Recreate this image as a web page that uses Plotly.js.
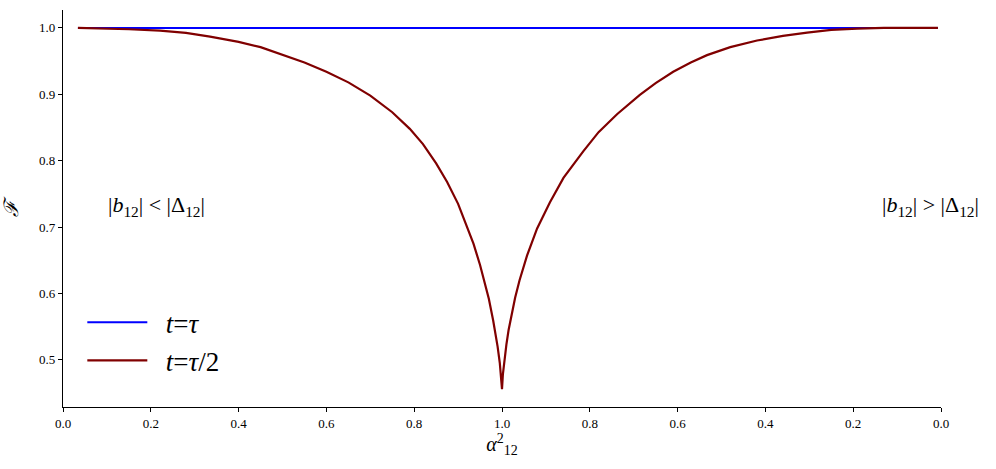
<!DOCTYPE html>
<html>
<head>
<meta charset="utf-8">
<script src="https://cdn.plot.ly/plotly-3.0.1.min.js"></script>
<style>html,body{margin:0;padding:0;background:#fff;}#chart{width:996px;height:469px;}</style>
</head>
<body>
<div id="chart"></div>
<script>
// x runs 0 -> 1 -> 2 on the plot; tick labels mirror (0.0 ... 1.0 ... 0.0)
const blueX = [0.034, 0.25, 0.5, 0.75, 1.0, 1.25, 1.5, 1.75, 1.993];
const blueY = [1.0, 1.0, 1.0, 1.0, 1.0, 1.0, 1.0, 1.0, 1.0];

const redX = [0.034, 0.107, 0.150, 0.221, 0.280, 0.335, 0.400, 0.450, 0.500, 0.550, 0.600, 0.650, 0.700, 0.750, 0.790, 0.820, 0.850, 0.875, 0.900, 0.920, 0.935, 0.950, 0.960, 0.970, 0.980, 0.985, 0.990, 0.995, 0.998, 1.000,
              1.002, 1.005, 1.010, 1.015, 1.020, 1.030, 1.040, 1.057, 1.080, 1.109, 1.140, 1.185, 1.220, 1.262, 1.314, 1.350, 1.390, 1.430, 1.467, 1.520, 1.581, 1.640, 1.695, 1.750, 1.809, 1.870, 1.993];
const redY = [1.000, 0.999, 0.998, 0.996, 0.9925, 0.987, 0.979, 0.971, 0.960, 0.948, 0.934, 0.918, 0.898, 0.873, 0.848, 0.825, 0.796, 0.768, 0.735, 0.702, 0.675, 0.643, 0.619, 0.592, 0.559, 0.541, 0.520, 0.495, 0.476, 0.456,
              0.478, 0.498, 0.523, 0.545, 0.562, 0.594, 0.620, 0.657, 0.698, 0.737, 0.774, 0.814, 0.843, 0.870, 0.899, 0.917, 0.934, 0.948, 0.959, 0.971, 0.981, 0.988, 0.993, 0.997, 0.999, 1.000, 1.000];

const xTickVals = [0, 0.2, 0.4, 0.6, 0.8, 1.0, 1.2, 1.4, 1.6, 1.8, 2.0];
const xTickText = ["0.0", "0.2", "0.4", "0.6", "0.8", "1.0", "0.8", "0.6", "0.4", "0.2", "0.0"];
const yTickVals = [0.5, 0.6, 0.7, 0.8, 0.9, 1.0];
const yTickText = ["0.5", "0.6", "0.7", "0.8", "0.9", "1.0"];

const serif = "Times New Roman, Liberation Serif, DejaVu Serif, serif";

const traces = [
  {x: blueX, y: blueY, mode: "lines", name: "&nbsp;&nbsp;<i>t</i>=<i>τ</i>",
   line: {color: "#0000ff", width: 2}},
  {x: redX, y: redY, mode: "lines", name: "&nbsp;&nbsp;<i>t</i>=<i>τ</i>/2",
   line: {color: "#800000", width: 2.2}}
];

const layout = {
  width: 996, height: 469,
  margin: {l: 63, r: 55, t: 10, b: 62},
  paper_bgcolor: "#fff", plot_bgcolor: "#fff",
  font: {family: serif, color: "#000"},
  showlegend: true,
  legend: {x: 0.022, y: 0.055, xanchor: "left", yanchor: "bottom",
           font: {size: 27, family: serif, color: "#000"}, bgcolor: "rgba(0,0,0,0)",
           itemwidth: 60, tracegroupgap: 6},
  xaxis: {range: [0, 2], tickvals: xTickVals, ticktext: xTickText,
          showgrid: false, zeroline: false, showline: true, linecolor: "#000", linewidth: 1.2,
          ticks: "outside", ticklen: 4, tickcolor: "#000", tickfont: {size: 13, family: serif, color: "#000"},
          title: {text: "<i>α</i><sup>2</sup><sub>12</sub>", font: {size: 20, family: serif, color: "#000"}, standoff: 6}},
  yaxis: {range: [0.429, 1.027], tickvals: yTickVals, ticktext: yTickText,
          showgrid: false, zeroline: false, showline: true, linecolor: "#000", linewidth: 1.2,
          ticks: "outside", ticklen: 4, tickcolor: "#000", tickfont: {size: 13, family: serif, color: "#000"},
          title: {text: "<i>ℱ</i>", font: {size: 20, family: serif, color: "#000"}, standoff: 16}},
  annotations: [
    {x: 0.214, y: 0.732, xref: "x", yref: "y", showarrow: false,
     text: "|<i>b</i><sub>12</sub>| &lt; |Δ<sub>12</sub>|", font: {size: 22, family: serif, color: "#000"}},
    {x: 1.975, y: 0.732, xref: "x", yref: "y", showarrow: false,
     text: "|<i>b</i><sub>12</sub>| &gt; |Δ<sub>12</sub>|", font: {size: 22, family: serif, color: "#000"}}
  ]
};

Plotly.newPlot("chart", traces, layout, {displayModeBar: false, staticPlot: true});
</script>
</body>
</html>
